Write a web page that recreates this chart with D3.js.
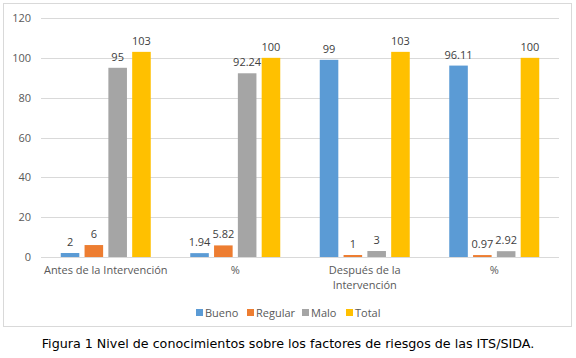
<!DOCTYPE html>
<html>
<head>
<meta charset="utf-8">
<script src="https://cdn.jsdelivr.net/npm/d3@7"></script>
<style>
  body { margin: 0; background: #fff; }
  svg text { font-family: "Open Sans", "Noto Sans", sans-serif; }
</style>
</head>
<body>
<svg id="chart" width="576" height="358"></svg>
<script>
"use strict";

// data
var categories = ["Antes de la Intervención", "%", "Después de la Intervención", "%"];
var series = ["Bueno", "Regular", "Malo", "Total"];
var bueno = [2, 1.94, 99, 96.11];
var regular = [6, 5.82, 1, 0.97];
var malo = [95, 92.24, 3, 2.92];
var total = [103, 100, 103, 100];
var yTicks = [0, 20, 40, 60, 80, 100, 120];
var colors = ["#5b9bd5", "#ed7d31", "#a5a5a5", "#ffc000"];
var caption = "Figura 1 Nivel de conocimientos sobre los factores de riesgos de las ITS/SIDA.";

var values = [bueno, regular, malo, total];

var svg = d3.select("#chart");
var margin = { left: 41, right: 17, top: 18, bottom: 101 };
var W = 576, H = 358;

// outer chart frame
svg.append("rect")
	.attr("x", 3.5).attr("y", 3.5)
	.attr("width", 568).attr("height", 323)
	.attr("fill", "#fff").attr("stroke", "#d9d9d9");

var x = d3.scaleBand().domain(d3.range(categories.length))
	.range([margin.left, W - margin.right]);
var y = d3.scaleLinear().domain([0, 120]).range([H - margin.bottom, margin.top]);
var inner = d3.scaleBand().domain(d3.range(series.length))
	.range([0, 90]).paddingInner(0.22);
var groupOff = (x.bandwidth() - 90) / 2;

// gridlines
svg.append("g").selectAll("line").data(yTicks).join("line")
	.attr("x1", margin.left).attr("x2", W - margin.right)
	.attr("y1", function(d) { return Math.round(y(d)) + 0.5; })
	.attr("y2", function(d) { return Math.round(y(d)) + 0.5; })
	.attr("stroke", "#d9d9d9");

svg.append("g").selectAll("text").data(yTicks).join("text")
	.attr("x", margin.left - 10).attr("y", function(d) { return y(d) + 4; })
	.attr("text-anchor", "end").attr("font-size", 11).attr("fill", "#595959")
	.text(function(d) { return d; });

// bars + labels
series.forEach(function(s, si) {
	var g = svg.append("g");
	g.selectAll("rect").data(values[si]).join("rect")
		.attr("x", function(d, i) { return x(i) + groupOff + inner(si); })
		.attr("y", function(d) { return y(d); })
		.attr("width", inner.bandwidth())
		.attr("height", function(d) { return y(0) - y(d); })
		.attr("fill", colors[si]);
	g.selectAll("text").data(values[si]).join("text")
		.attr("x", function(d, i) { return x(i) + groupOff + inner(si) + inner.bandwidth() / 2; })
		.attr("y", function(d) { return y(d) - 7; })
		.attr("text-anchor", "middle").attr("font-size", 11).attr("fill", "#404040")
		.text(function(d) { return d; });
});

// category labels (wrap long ones)
var catG = svg.append("g");
categories.forEach(function(c, i) {
	var lines = c === "Después de la Intervención" ? ["Después de la", "Intervención"] : [c];
	var t = catG.append("text")
		.attr("x", x(i) + x.bandwidth() / 2).attr("y", y(0) + 17)
		.attr("text-anchor", "middle").attr("font-size", 11).attr("fill", "#595959");
	lines.forEach(function(l, li) {
		t.append("tspan").attr("x", x(i) + x.bandwidth() / 2)
			.attr("dy", li ? 15 : 0).text(l);
	});
});

// legend
var legX = [196, 247, 302, 346];
var leg = svg.append("g");
series.forEach(function(s, si) {
	leg.append("rect").attr("x", legX[si]).attr("y", 309)
		.attr("width", 7).attr("height", 7).attr("fill", colors[si]);
	leg.append("text").attr("x", legX[si] + 9).attr("y", 317)
		.attr("font-size", 11).attr("fill", "#595959").text(s);
});

// caption
svg.append("text").attr("x", 288).attr("y", 348)
	.attr("text-anchor", "middle")
	.style("font-family", "'DejaVu Sans', Verdana, sans-serif")
	.attr("font-size", 12.7).attr("fill", "#000")
	.text(caption);
</script>
</body>
</html>
